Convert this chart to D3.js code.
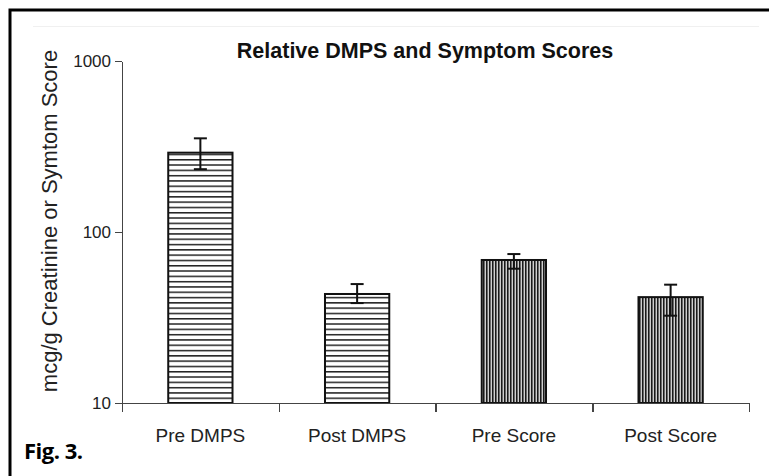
<!DOCTYPE html>
<html>
<meta charset="utf-8">
<title>Relative DMPS and Symptom Scores</title>
<style>
	body {
		margin: 0;
		background: #fff;
	}

	.axis path,
	.axis line {
		stroke: #444;
		stroke-width: 1.5px;
		shape-rendering: crispEdges;
	}

	.axis text {
		font: 17px "Liberation Sans", Arial, sans-serif;
		fill: #222;
	}
</style>

<body>
	<script src="https://cdnjs.cloudflare.com/ajax/libs/d3/7.8.5/d3.min.js"></script>
	<script>
		// values
		var categories = ["Pre DMPS", "Post DMPS", "Pre Score", "Post Score"];
		var means = [291, 43.4, 68.6, 41.6];
		var errHigh = [353, 49.6, 74.3, 49.2];
		var errLow = [233, 38.4, 61.0, 32.4];
		var hatch = ["horiz", "horiz", "vert", "vert"];
		var yTicks = [10, 100, 1000];

		var width = 769,
			height = 476;

		var svg = d3.select("body").append("svg")
			.attr("width", width)
			.attr("height", height);

		var defs = svg.append("defs");

		// horizontal line hatch for the DMPS bars
		var ph = defs.append("pattern")
			.attr("id", "horiz")
			.attr("patternUnits", "userSpaceOnUse")
			.attr("width", 8)
			.attr("height", 5.3);
		ph.append("rect").attr("width", 8).attr("height", 5.3).attr("fill", "#fff");
		ph.append("rect").attr("y", 0).attr("width", 8).attr("height", 1.5).attr("fill", "#222");

		// dense vertical hatch for the score bars
		var pv = defs.append("pattern")
			.attr("id", "vert")
			.attr("patternUnits", "userSpaceOnUse")
			.attr("width", 3)
			.attr("height", 8);
		pv.append("rect").attr("width", 3).attr("height", 8).attr("fill", "#d0d0d0");
		pv.append("rect").attr("x", 0).attr("width", 1).attr("height", 8).attr("fill", "#1a1a1a");
		pv.append("rect").attr("x", 1).attr("width", 1).attr("height", 8).attr("fill", "#6a6a6a");

		// page frame (only top and left edges are in view)
		svg.append("path")
			.attr("d", "M10," + (height + 5) + "V10H" + (width + 5))
			.attr("fill", "none")
			.attr("stroke", "#000")
			.attr("stroke-width", 3);

		svg.append("line")
			.attr("x1", 33).attr("x2", 759)
			.attr("y1", 26.5).attr("y2", 26.5)
			.attr("stroke", "#f0f0f0")
			.attr("stroke-width", 1);

		var x0 = 122,
			x1 = 749,
			yTop = 61,
			yBot = 403;

		var x = d3.scaleBand()
			.domain(categories)
			.range([x0, x1])
			.paddingInner(0.59)
			.paddingOuter(0.295);

		var y = d3.scaleLog()
			.domain([10, 1000])
			.range([yBot, yTop]);

		// bars
		svg.append("g").selectAll("rect")
			.data(categories)
			.enter().append("rect")
			.attr("x", function (d) { return x(d); })
			.attr("y", function (d, i) { return y(means[i]); })
			.attr("width", x.bandwidth())
			.attr("height", function (d, i) { return yBot - y(means[i]); })
			.attr("fill", function (d, i) { return "url(#" + hatch[i] + ")"; })
			.attr("stroke", "#111")
			.attr("stroke-width", 2);

		// error bars
		var err = svg.append("g")
			.attr("stroke", "#111")
			.attr("stroke-width", 2)
			.attr("fill", "none");

		categories.forEach(function (c, i) {
			var cx = x(c) + x.bandwidth() / 2;
			err.append("line")
				.attr("x1", cx).attr("x2", cx)
				.attr("y1", y(errHigh[i])).attr("y2", y(errLow[i]));
			err.append("line")
				.attr("x1", cx - 6.5).attr("x2", cx + 6.5)
				.attr("y1", y(errHigh[i])).attr("y2", y(errHigh[i]));
			err.append("line")
				.attr("x1", cx - 6.5).attr("x2", cx + 6.5)
				.attr("y1", y(errLow[i])).attr("y2", y(errLow[i]));
		});

		// y axis
		svg.append("g")
			.attr("class", "axis")
			.attr("transform", "translate(" + x0 + ",0)")
			.call(d3.axisLeft(y)
				.tickValues(yTicks)
				.tickFormat(d3.format("d"))
				.tickSize(7)
				.tickSizeOuter(0)
				.tickPadding(4));

		// x axis: ticks at band edges, labels centred in bands
		var xEdge = d3.scaleLinear()
			.domain([0, categories.length])
			.range([x0, x1]);

		svg.append("g")
			.attr("class", "axis")
			.attr("transform", "translate(0," + yBot + ")")
			.call(d3.axisBottom(xEdge)
				.tickValues(d3.range(categories.length + 1))
				.tickFormat("")
				.tickSize(9)
				.tickSizeOuter(0));

		svg.append("g").selectAll("text")
			.data(categories)
			.enter().append("text")
			.attr("x", function (d) { return x(d) + x.bandwidth() / 2; })
			.attr("y", 442)
			.attr("text-anchor", "middle")
			.style("font", "19px 'Liberation Sans', Arial, sans-serif")
			.style("fill", "#222")
			.text(function (d) { return d; });

		// title
		svg.append("text")
			.attr("x", 425)
			.attr("y", 58)
			.attr("text-anchor", "middle")
			.style("font", "bold 21.5px 'Liberation Sans', Arial, sans-serif")
			.style("fill", "#111")
			.text("Relative DMPS and Symptom Scores");

		// y label
		svg.append("text")
			.attr("transform", "translate(57,221) rotate(-90)")
			.attr("text-anchor", "middle")
			.style("font", "22px 'Liberation Sans', Arial, sans-serif")
			.style("fill", "#222")
			.text("mcg/g Creatinine or Symtom Score");

		// figure caption
		svg.append("text")
			.attr("x", 24)
			.attr("y", 459)
			.style("font", "bold 22px 'Open Sans', sans-serif")
			.style("letter-spacing", "-0.5px")
			.style("fill", "#000")
			.text("Fig. 3.");
	</script>
</body>

</html>
